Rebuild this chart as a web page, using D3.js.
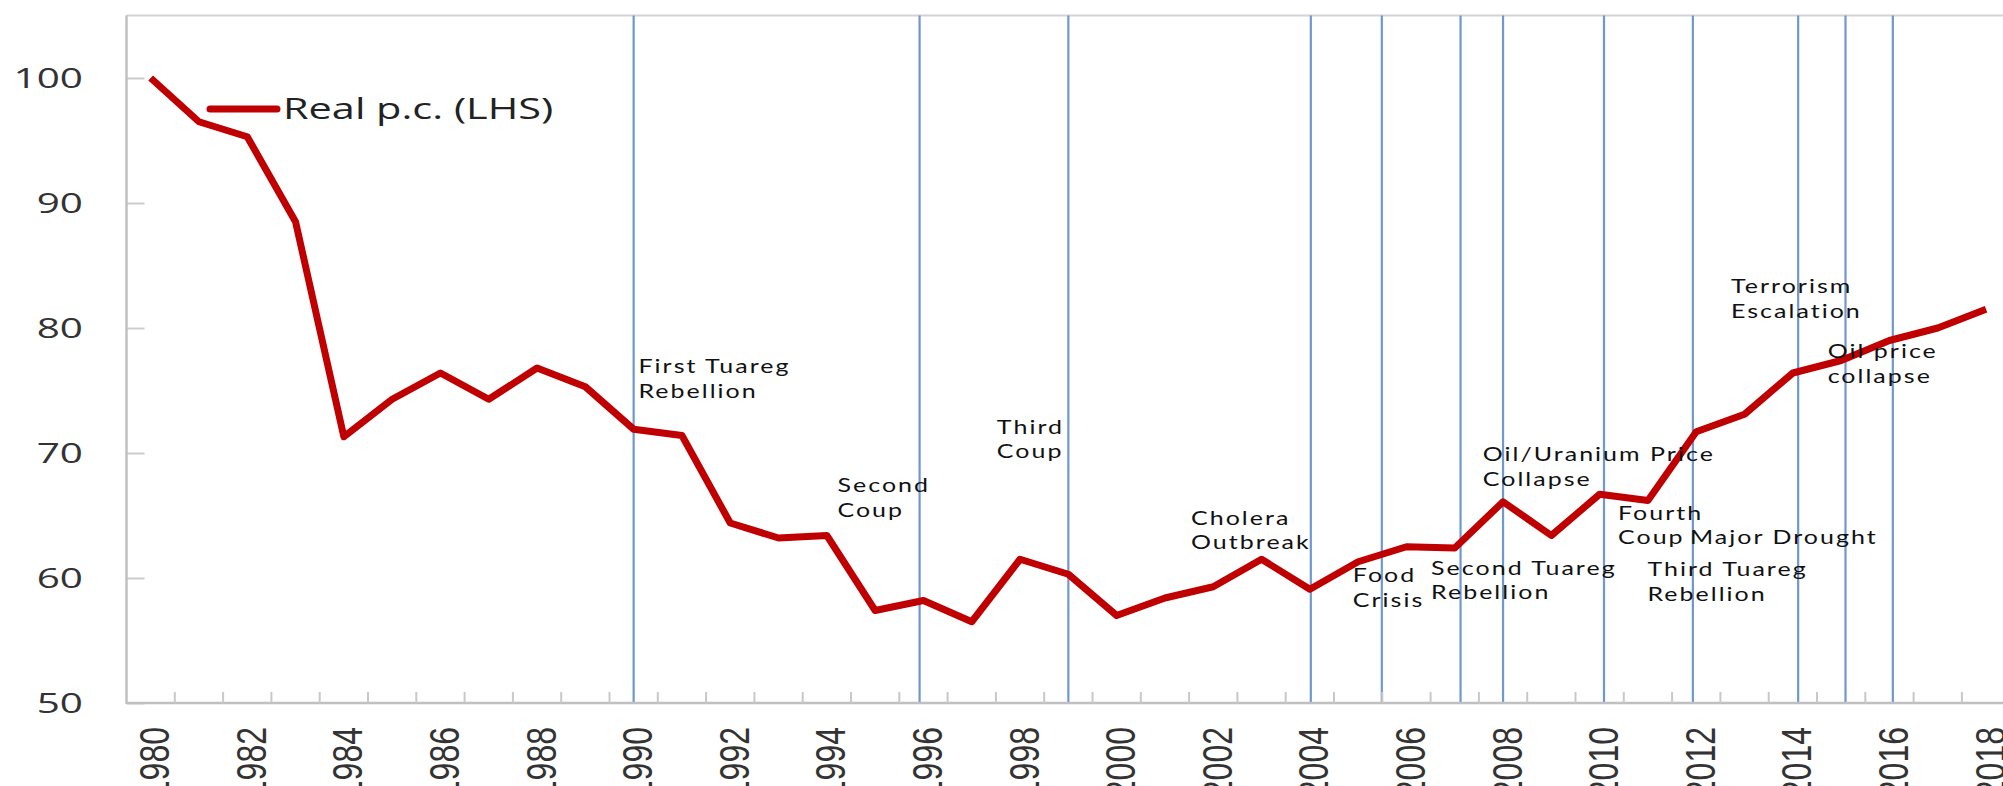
<!DOCTYPE html>
<html>
<head>
<meta charset="utf-8">
<script src="https://cdn.jsdelivr.net/npm/d3@7/dist/d3.min.js"></script>
<style>
  html, body { margin: 0; padding: 0; background: #fff; }
  svg { display: block; }
</style>
</head>
<body>
<svg id="chart" width="2003" height="786"></svg>
<script>
// categories (years) and the series
const years = [1980, 1981, 1982, 1983, 1984, 1985, 1986, 1987, 1988, 1989,
  1990, 1991, 1992, 1993, 1994, 1995, 1996, 1997, 1998, 1999,
  2000, 2001, 2002, 2003, 2004, 2005, 2006, 2007, 2008, 2009,
  2010, 2011, 2012, 2013, 2014, 2015, 2016, 2017, 2018];
const realPc = [100, 96.5, 95.3, 88.5, 71.3, 74.3, 76.4, 74.3, 76.8, 75.3,
  71.9, 71.4, 64.4, 63.2, 63.4, 57.4, 58.2, 56.5, 61.5, 60.3,
  57.0, 58.4, 59.3, 61.5, 59.1, 61.3, 62.5, 62.4, 66.1, 63.4,
  66.7, 66.2, 71.7, 73.1, 76.4, 77.4, 79.0, 80.0, 81.5];
const yTicks = [50, 60, 70, 80, 90, 100];
const labelYears = [1980, 1982, 1984, 1986, 1988, 1990, 1992, 1994, 1996, 1998,
  2000, 2002, 2004, 2006, 2008, 2010, 2012, 2014, 2016, 2018];
// event markers, hand placed in the original so a few sit slightly off the year
const eventYears = [1990, 1995.92, 1999, 2004.02, 2005.49, 2007.12, 2008, 2010.09, 2011.93, 2014.11, 2015.09, 2016.07];
// event notes, anchored in year / value units
const noteText = [
  ["First Tuareg", "Rebellion"], ["Second", "Coup"], ["Third", "Coup"],
  ["Cholera", "Outbreak"], ["Food", "Crisis"], ["Second Tuareg", "Rebellion"],
  ["Oil/Uranium Price", "Collapse"], ["Fourth", "Coup"], ["Major Drought"],
  ["Third Tuareg", "Rebellion"], ["Terrorism", "Escalation"], ["Oil price", "collapse"]
];
const noteYear = [1990.10, 1994.22, 1997.52, 2001.54, 2004.89, 2006.51, 2007.58, 2010.38, 2011.87, 2010.99, 2012.72, 2014.72];
const noteValue = [76.9, 67.36, 72.06, 64.78, 60.16, 60.78, 69.84, 65.18, 63.26, 60.64, 83.3, 78.1];
const seriesName = "Real p.c. (LHS)";

const stretch = 1.35; // the original picture is widened horizontally
const svg = d3.select("#chart");
svg.append("rect").attr("width", 2003).attr("height", 786).attr("fill", "#fff");

const plotLeft = 126.5, plotBottom = 703, plotTop = 15.5, step = 48.3;

const x = d3.scaleBand()
  .domain(years)
  .range([plotLeft, plotLeft + step * years.length])
  .padding(0);
const xYear = d3.scaleLinear()
  .domain([years[0], years[years.length - 1]])
  .range([x(years[0]) + x.bandwidth() / 2, x(years[years.length - 1]) + x.bandwidth() / 2]);
const y = d3.scaleLinear().domain([50, 105]).range([plotBottom, plotTop]);

// top frame of the plot area
svg.append("line")
  .attr("x1", plotLeft).attr("x2", 2003)
  .attr("y1", y(105)).attr("y2", y(105))
  .attr("stroke", "#d3d3d3").attr("stroke-width", 2.2);

// event lines
svg.append("g")
  .selectAll("line")
  .data(eventYears)
  .enter()
  .append("line")
    .attr("x1", d => xYear(d)).attr("x2", d => xYear(d))
    .attr("y1", y(105)).attr("y2", plotBottom)
    .attr("stroke", "#6f97d0")
    .attr("stroke-width", 2.2);

// y axis
const yAxis = svg.append("g")
  .attr("transform", `translate(${plotLeft},0)`)
  .call(d3.axisRight(y).tickValues(yTicks).tickSize(18).tickFormat(""));
yAxis.select(".domain").remove();
yAxis.selectAll(".tick line").attr("stroke", "#cccccc").attr("stroke-width", 2);
svg.append("line")
  .attr("x1", plotLeft).attr("x2", plotLeft)
  .attr("y1", y(105)).attr("y2", plotBottom + 1)
  .attr("stroke", "#c0c0c0").attr("stroke-width", 2.5);

svg.append("g")
  .selectAll("g")
  .data(yTicks)
  .enter()
  .append("g")
    .attr("transform", d => `translate(83,${y(d)})`)
  .append("text")
    .attr("transform", "scale(1.5,1)")
    .attr("text-anchor", "end")
    .attr("dy", "0.36em")
    .style("font-family", "'Open Sans', sans-serif")
    .style("font-size", "27px")
    .attr("fill", "#333")
    .text(d => d);

// x axis: ticks between categories, pointing up
const boundaries = years.slice(1).map(d => x(d));
svg.append("line")
  .attr("x1", plotLeft).attr("x2", 2003)
  .attr("y1", plotBottom).attr("y2", plotBottom)
  .attr("stroke", "#c0c0c0").attr("stroke-width", 2.5);
svg.append("g")
  .selectAll("line")
  .data(boundaries)
  .enter()
  .append("line")
    .attr("x1", d => d).attr("x2", d => d)
    .attr("y1", plotBottom).attr("y2", plotBottom - 11)
    .attr("stroke", "#c8c8c8").attr("stroke-width", 2);

svg.append("g")
  .selectAll("g")
  .data(labelYears)
  .enter()
  .append("g")
    .attr("transform", d => `translate(${x(d) + x.bandwidth() / 2 + 3},727) rotate(-90) scale(1,${stretch})`)
  .append("text")
    .attr("text-anchor", "end")
    .attr("dy", "0.36em")
    .style("font-family", "'Liberation Sans', Arial, sans-serif")
    .style("font-size", "32px")
    .attr("fill", "#333")
    .text(d => d);

// series
const line = d3.line()
  .x((d, i) => x(years[i]) + x.bandwidth() / 2)
  .y(d => y(d));
svg.append("path")
  .datum(realPc)
  .attr("fill", "none")
  .attr("stroke", "#c00000")
  .attr("stroke-width", 7)
  .attr("stroke-linejoin", "round")
  .attr("d", line);

// notes
const notes = svg.append("g");
noteText.forEach((lines, i) => {
  const t = notes.append("g")
    .attr("transform", `translate(${xYear(noteYear[i])},${y(noteValue[i])})`)
    .append("text")
    .attr("transform", `scale(${stretch},1)`)
    .style("font-family", "Lato, 'Open Sans', sans-serif")
    .style("font-size", "18.5px")
    .style("letter-spacing", "1.5px")
    .attr("fill", "#111");
  lines.forEach((s, j) => {
    t.append("tspan").attr("x", 0).attr("dy", j === 0 ? "0.35em" : "1.32em").text(s);
  });
});

// legend
svg.append("line")
  .attr("x1", 210).attr("x2", 277)
  .attr("y1", 109).attr("y2", 109)
  .attr("stroke", "#c00000").attr("stroke-width", 7)
  .attr("stroke-linecap", "round");
svg.append("g")
  .attr("transform", "translate(283,109)")
  .append("text")
    .attr("transform", "scale(1.43,1)")
    .attr("dy", "0.36em")
    .style("font-family", "'Open Sans', sans-serif")
    .style("font-size", "29px")
    .attr("fill", "#222")
    .text(seriesName);
</script>
</body>
</html>
